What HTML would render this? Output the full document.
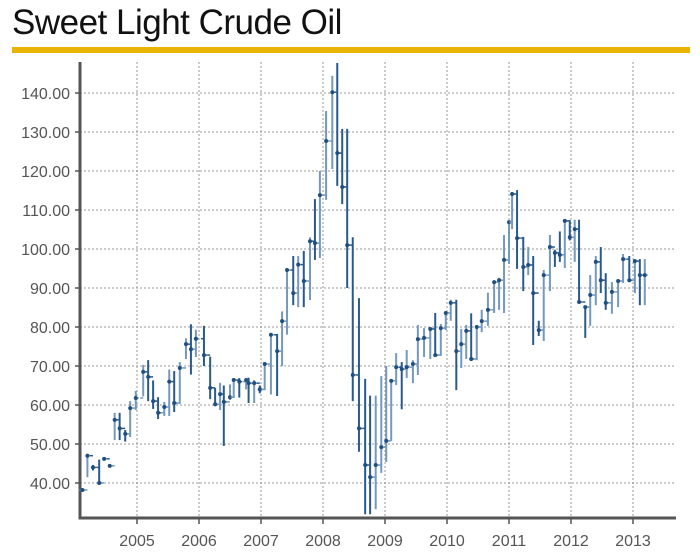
<!DOCTYPE html>
<html><head><meta charset="utf-8"><style>
body{margin:0;background:#fff;width:700px;height:557px;overflow:hidden;font-family:"Liberation Sans",sans-serif}
#title{position:absolute;left:12px;top:3px;font-size:35px;color:#111;letter-spacing:-0.5px}
#bar{position:absolute;left:12px;top:47px;width:678px;height:6px;background:#e8b400}
svg{position:absolute;left:0;top:0}
</style></head><body>
<div id="title">Sweet Light Crude Oil</div>
<div id="bar"></div>
<svg id="chart" width="700" height="557"></svg>
<script>
const dates=[2004.12,2004.2,2004.29,2004.39,2004.47,2004.56,2004.64,2004.72,2004.81,2004.89,2004.98,2005.1,2005.18,2005.26,2005.34,2005.44,2005.52,2005.6,2005.69,2005.79,2005.87,2005.95,2006.08,2006.18,2006.26,2006.34,2006.4,2006.5,2006.56,2006.65,2006.76,2006.8,2006.89,2006.98,2007.06,2007.16,2007.26,2007.34,2007.42,2007.52,2007.6,2007.69,2007.79,2007.87,2007.95,2008.05,2008.15,2008.23,2008.31,2008.39,2008.48,2008.58,2008.68,2008.76,2008.85,2008.94,2009.02,2009.1,2009.18,2009.27,2009.35,2009.45,2009.53,2009.63,2009.73,2009.81,2009.9,2009.98,2010.06,2010.15,2010.23,2010.31,2010.39,2010.48,2010.56,2010.66,2010.76,2010.84,2010.92,2011.0,2011.05,2011.13,2011.23,2011.31,2011.39,2011.48,2011.56,2011.66,2011.74,2011.82,2011.9,2011.98,2012.06,2012.13,2012.23,2012.31,2012.4,2012.48,2012.56,2012.66,2012.76,2012.84,2012.94,2013.03,2013.11,2013.19];
const closeV=[38.2,47,44,40,46.2,44.4,56.2,54,52.6,59.2,61.8,68.5,67.2,61,58,59.5,66,60.5,69.5,75.6,74.3,77,72.8,64.4,60.2,62.8,60.8,62,66.4,66,66.4,65.6,65.6,64,70.5,78,73.8,81.5,94.6,88.7,96,91.8,102,101.5,113.8,127.7,140.2,124.6,115.9,101,67.7,54,44.6,41.5,44.6,49.2,50.8,66.2,69.7,69.2,69.7,70.5,76.9,77.2,79.5,72.8,79.7,83.6,86.2,73.8,75.6,79,71.8,80,81.5,84.4,91.5,92,97.2,106.9,114.1,102.8,95.4,95.9,88.7,79.2,93.3,100.5,99,98.5,107.2,103,105.1,86.4,85.1,88.2,96.7,92,86.2,89,91.8,97.4,92,96.9,93.3,93.3];
const highV=[38.2,47.5,44.6,46,46.5,44.6,58,58,53.6,61,63.6,70.3,71.5,66.3,62,60.8,69.1,68.7,71,77.1,80.7,79.3,80.3,72.4,64.4,65.7,65,65.3,66.9,66.9,66.9,67,66.4,65,70.5,78.2,78.2,84,94.6,98.2,98.2,99.5,103,112.8,120,135.4,144.4,147.7,130.8,130.8,103,87.4,66.7,62.4,62.4,67.4,70,66.4,73.3,71,74.1,71.5,80.5,79.7,79.5,83.6,80.8,83.6,87,87,79.5,80.5,83.5,80,84.4,88.8,91.5,92.6,103.6,106.9,114.6,115.1,103.1,100.5,98.2,81.6,94.6,103.6,99.8,104.5,107.4,107.4,107.5,107.5,85.1,93.3,98.2,100.5,93.8,91.5,91.8,98.7,98.2,97.4,97.4,97.4];
const lowV=[38.2,41.5,43.2,40,45.8,44,51,51,50.6,51.8,58.7,62.2,61,59,56.4,57.2,57.2,58.2,60.3,71.8,67.8,72.3,70,61.5,59.7,58.7,49.5,61.3,61.8,61.9,64,60.5,60.5,63,63.8,62.7,62.3,70,78,85.6,85.1,85.1,86.9,97.2,97.7,112.6,120.5,116.2,111.5,90,61,48,32,32,33.3,42.6,45.4,50.8,65.1,58.9,66.9,65.6,67.7,72.3,71.8,72.8,72.6,79.2,81.6,63.8,69.5,71.8,71.3,71.5,78.7,80.3,83.6,84.4,83.6,96.2,105.1,94.9,89.2,93.3,75.4,77.7,76.4,89.2,95.4,96.7,95.1,102.2,96.7,86.4,77.2,80.3,85.6,88.7,84.4,83.4,85.1,91.3,91.5,88.7,85.6,85.6];
const yTicks=[40,50,60,70,80,90,100,110,120,130,140];
const xTicks=[2005,2006,2007,2008,2009,2010,2011,2012,2013];
const NS='http://www.w3.org/2000/svg';
const svg=document.getElementById('chart');
const L=80,R=676,T=62,B=518;
const yS=v=>93+(140-v)*3.9;
const xS=t=>137+(t-2005)*62;
function mk(tag,at){const e=document.createElementNS(NS,tag);for(const k in at)e.setAttribute(k,at[k]);svg.appendChild(e);return e;}
yTicks.forEach(v=>{
 const y=yS(v);
 const g=mk('line',{x1:L,x2:R,y1:y,y2:y,stroke:'#999','stroke-dasharray':'2,2','stroke-width':1});
 
 
 const tk=mk('line',{x1:L-5,x2:L,y1:y,y2:y,stroke:'#555','stroke-width':1.5});
 
 
 const t=mk('text',{x:L-10,y:y+6,'text-anchor':'end','font-size':16,fill:'#555'});
 t.textContent=v.toFixed(2);
 
 
});
xTicks.forEach(v=>{
 const x=xS(v);
 const g=mk('line',{x1:x,x2:x,y1:T,y2:B,stroke:'#999','stroke-dasharray':'2,2','stroke-width':1});
 
 
 const tk=mk('line',{x1:x,x2:x,y1:B,y2:B+6,stroke:'#555','stroke-width':1.5});
 
 
 const t=mk('text',{x:x,y:B+28,'text-anchor':'middle','font-size':16,fill:'#555'});
 t.textContent=v;
 
 
});
const ax=mk('path',{d:`M${L} ${T}V${B}H${R}`,fill:'none',stroke:'#555','stroke-width':3});


dates.forEach((d,i)=>{
 const x=xS(d),c=closeV[i],o=i>0?closeV[i-1]:c;
 const col=c>=o?'#7598bd':'#2a5a8c';
 const g=document.createElementNS(NS,'g');svg.appendChild(g);
 
 
 const add=(tag,at)=>{const e=document.createElementNS(NS,tag);for(const k in at)e.setAttribute(k,at[k]);g.appendChild(e);};
 add('line',{x1:x,x2:x,y1:yS(highV[i]),y2:yS(lowV[i]),stroke:col,'stroke-width':2});
 add('line',{x1:x-3,x2:x,y1:yS(o),y2:yS(o),stroke:col,'stroke-width':1.5});
 add('line',{x1:x,x2:x+3,y1:yS(c),y2:yS(c),stroke:col,'stroke-width':1.5});
 add('circle',{cx:x,cy:yS(c),r:2,fill:'#1f4f80'});
});
</script>
</body></html>
